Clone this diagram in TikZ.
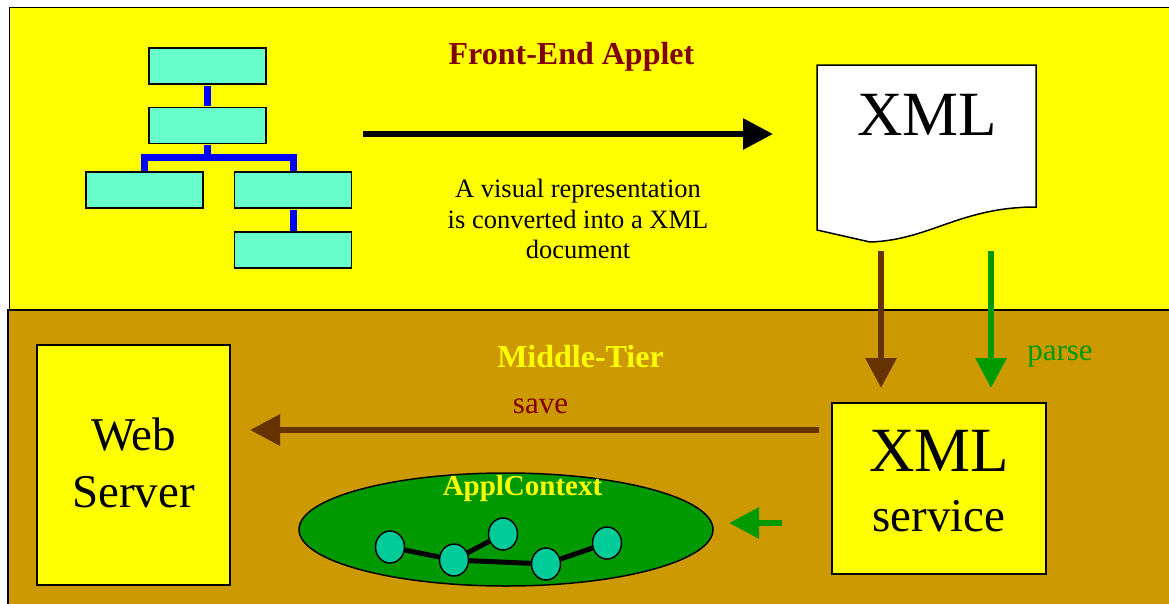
\documentclass[tikz,border=0pt]{standalone}
\usepackage{fontspec}
\setmainfont{Liberation Serif}
\usetikzlibrary{arrows.meta,shapes.geometric}

\definecolor{paneyellow}{HTML}{FFFF00}
\definecolor{tiergold}{HTML}{CC9900}
\definecolor{mintbox}{HTML}{66FFCC}
\definecolor{objteal}{HTML}{00CC99}
\definecolor{linkblue}{HTML}{0000FF}
\definecolor{titlered}{HTML}{800000}
\definecolor{flowbrown}{HTML}{663300}
\definecolor{flowgreen}{HTML}{009900}

\newcommand\setfs[2]{\fontsize{#1}{#2}\selectfont}

\begin{document}
\begin{tikzpicture}[x=1pt,y=-1pt,
  treebox/.style={draw=black,line width=1.5pt,fill=mintbox,
    minimum width=117pt,minimum height=36pt,inner sep=0pt},
  treelink/.style={draw=linkblue,line width=7pt,line join=miter,
    shorten <=0.75pt,shorten >=0.75pt},
  flow/.style={line width=6pt,-{Triangle[length=30pt,width=30pt]}},
  txt/.style={inner sep=0pt,anchor=base},
  tierbox/.style={draw=black,line width=1.5pt,fill=paneyellow,
    inner sep=0pt,align=center},
  obj/.style={ellipse,draw=black,line width=1.5pt,fill=objteal,
    minimum width=29pt,minimum height=32pt,inner sep=0pt},
  objlink/.style={draw=black,line width=5pt}
]
\useasboundingbox (0,0) rectangle (1169,603);
\fill[white] (0,0) rectangle (1169,603);

% two tiers
\draw[line width=1.5pt,fill=paneyellow] (9.5,7.5) rectangle (1185,310);
\draw[line width=2pt,fill=tiergold] (7.5,310) rectangle (1185,620);

% ---- front-end tier ----
\node[txt,text=titlered,font=\setfs{32}{36}\bfseries] (fe-title) at (571.5,64) {Front-End Applet};

% visual tree
\node[treebox] (b1) at (207.5,66) {};
\node[treebox] (b2) at (207.5,125.5) {};
\node[treebox] (b3) at (144.5,190) {};
\node[treebox] (b4) at (293,190) {};
\node[treebox] (b5) at (293,250) {};
\coordinate (fork) at (207.5,157.5);
\draw[treelink] (b1.south) -- (b2.north);
\draw[treelink,shorten >=0pt] (b2.south) -- (fork);
\draw[treelink] (b3.north) |- (fork) -| (b4.north);
\draw[treelink] (b4.south) -- (b5.north);

% conversion arrow
\coordinate (tree-out) at (363,134);
\coordinate (doc-in) at (773,134);
\draw[flow,black] (tree-out) -- (doc-in);
\node[inner sep=0pt,anchor=north,align=center,font=\setfs{26.5}{30.5}] (conv-text)
  at (578,179) {A visual representation\\is converted into a XML\\document};

% XML document
\draw[line width=1.5pt,fill=white] (817,65) -- (1036,65) -- (1036,207)
  .. controls (960,207) and (930,240) .. (870,242) -- (817,230) -- cycle;
\node[txt,font=\setfs{63}{63}] (doc-text) at (927,135) {XML};

% ---- middle tier ----
\node[txt,text=paneyellow,font=\setfs{32}{36}\bfseries] (mt-title) at (580.5,367) {Middle-Tier};

\node[tierbox,minimum width=193pt,minimum height=240pt,text depth=5pt,
  font=\setfs{47}{57}] (web) at (133.5,465) {Web\\Server};

\node[tierbox,minimum width=214pt,minimum height=171pt,text depth=15pt,
  font=\setfs{47}{60}] (svc) at (939,488.5) {{\setfs{63}{60}XML}\\service};

% document to service
\coordinate (doc-save-out) at (881,251);
\coordinate (svc-save-in) at (881,388);
\coordinate (doc-parse-out) at (991,251);
\coordinate (svc-parse-in) at (991,388);
\draw[flow,flowbrown] (doc-save-out) -- (svc-save-in);
\draw[flow,flowgreen] (doc-parse-out) -- (svc-parse-in);
\node[txt,text=flowgreen,font=\setfs{31}{36}] (parse-text) at (1060,360) {parse};

% service to web server
\coordinate (svc-save-out) at (819,430);
\coordinate (web-in) at (250,430);
\draw[flow,flowbrown] (svc-save-out) -- (web-in);
\node[txt,text=titlered,font=\setfs{31}{36}] (save-text) at (540.5,413) {save};

% application context
\node[ellipse,draw=black,line width=1.5pt,fill=flowgreen,
  minimum width=414pt,minimum height=113pt,inner sep=0pt] (ctx) at (506,529.5) {};
\node[txt,text=paneyellow,font=\setfs{29}{33}\bfseries] (ctx-text) at (522.5,495) {ApplContext};
\node[obj] (o1) at (390,547) {};
\node[obj] (o2) at (454,560) {};
\node[obj] (o3) at (503,534) {};
\node[obj] (o4) at (546,564) {};
\node[obj] (o5) at (607,543) {};
\draw[objlink] (o1) -- (o2);
\draw[objlink] (o2) -- (o3);
\draw[objlink] (o2) -- (o4);
\draw[objlink] (o4) -- (o5);

\coordinate (svc-ctx-out) at (782,523);
\coordinate (ctx-in) at (729,523);
\draw[flow,flowgreen] (svc-ctx-out) -- (ctx-in);
\end{tikzpicture}
\end{document}
